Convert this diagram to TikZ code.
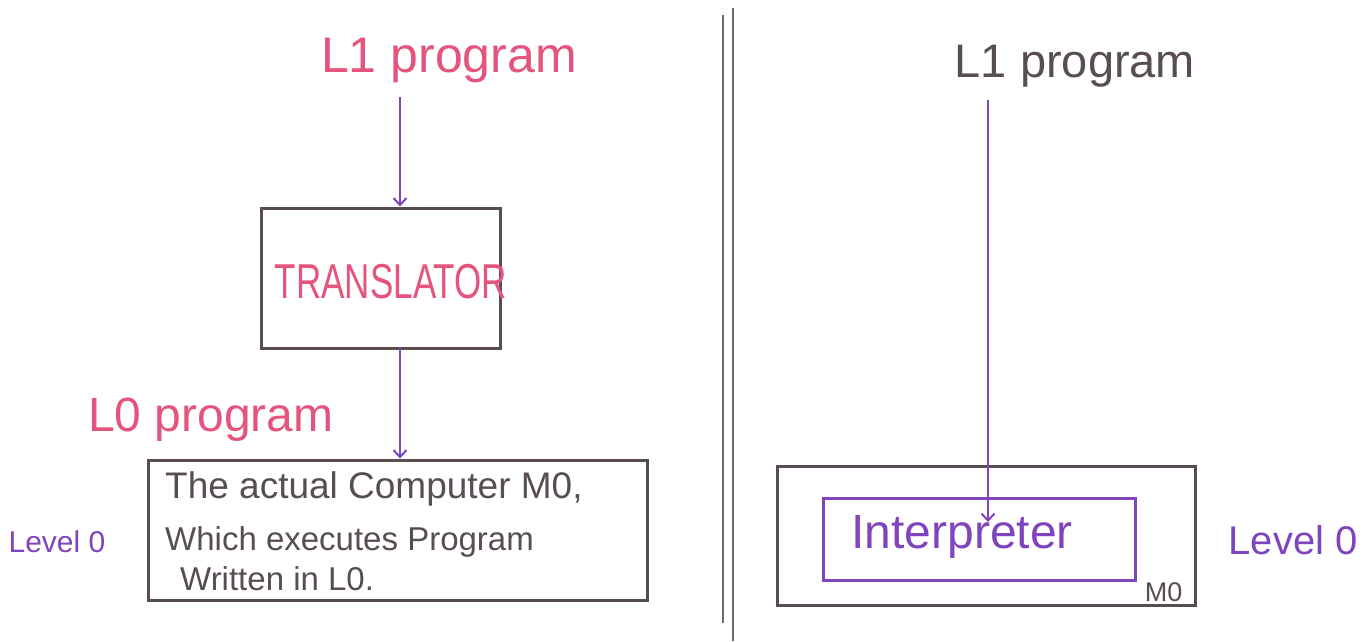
\documentclass[tikz,border=0pt]{standalone}
\usepackage{fontspec}
\setmainfont{Liberation Sans}
\usetikzlibrary{arrows.meta}
\definecolor{penpink}{RGB}{229,84,124}
\definecolor{penpurple}{RGB}{128,68,190}
\definecolor{penink}{RGB}{88,78,80}
\newcommand{\fs}[1]{\fontsize{#1}{#1}\selectfont}
\tikzset{
  pinktxt/.style={text=penpink, inner sep=0pt},
  purpletxt/.style={text=penpurple, inner sep=0pt},
  inktxt/.style={text=penink, inner sep=0pt},
  inkbox/.style={draw=penink, line width=3pt, rectangle, inner sep=0pt},
  purplebox/.style={draw=penpurple, line width=3pt, rectangle, inner sep=0pt},
  flow/.style={draw=penpurple, line width=2pt,
    -{Straight Barb[length=7pt,width=13pt,line width=2pt]}},
  divider/.style={draw=penink!85, line width=2.8pt}
}
\begin{document}
\begin{tikzpicture}[x=1pt,y=-1pt]
\useasboundingbox (0,0) rectangle (1371,641);

% ---- left half: translation ----
\node[pinktxt, font=\fs{50}] (l1a) at (449,60) {L1 program};
\node[inkbox, minimum width=239pt, minimum height=140pt] (trans) at (380.5,278) {};
\node[pinktxt, font=\fs{35}] (translbl) at (391,282) {\scalebox{1}[1.4]{TRANSLATOR}};
\node[pinktxt, font=\fs{48}] (l0) at (211,420) {L0 program};
\node[inkbox, minimum width=499pt, minimum height=140pt] (m0box) at (397.5,530) {};
\node[inktxt, font=\fs{37}, anchor=base west] (txta) at (165,498) {The actual Computer M0,};
\node[inktxt, font=\fs{33}, anchor=base west] (txtb) at (165,550) {Which executes Program};
\node[inktxt, font=\fs{33}, anchor=base west] (txtc) at (180,590) {Written in L0.};
\node[purpletxt, font=\fs{30}] (lvla) at (57,542) {Level 0};

\coordinate (a1) at (400,97);
\draw[flow] (a1) -- (a1 |- trans.north);
\coordinate (a2) at (400,348);
\draw[flow] (a2) -- (a2 |- m0box.north);

% ---- divider ----
\coordinate (d1t) at (723,15);
\coordinate (d1b) at (723,623);
\coordinate (d2t) at (733,8);
\coordinate (d2b) at (733,641);
\draw[divider] (d1t) -- (d1b);
\draw[divider] (d2t) -- (d2b);

% ---- right half: interpretation ----
\node[inktxt, font=\fs{47}] (l1b) at (1075,66) {L1 program};
\node[inkbox, minimum width=418pt, minimum height=139pt] (outer) at (986,535.5) {};
\node[purplebox, minimum width=312pt, minimum height=82pt] (interp) at (979,539) {};
\node[purpletxt, font=\fs{48}] (interplbl) at (962,537) {Interpreter};
\node[inktxt, font=\fs{27}, anchor=south east] (m0) at ([xshift=-14pt,yshift=5pt]outer.south east) {M0};
\node[purpletxt, font=\fs{40}] (lvlb) at (1293,540) {Level 0};

\coordinate (a3) at (988,100);
\coordinate (a3e) at (988,522);
\draw[flow] (a3) -- (a3e);
\end{tikzpicture}
\end{document}
